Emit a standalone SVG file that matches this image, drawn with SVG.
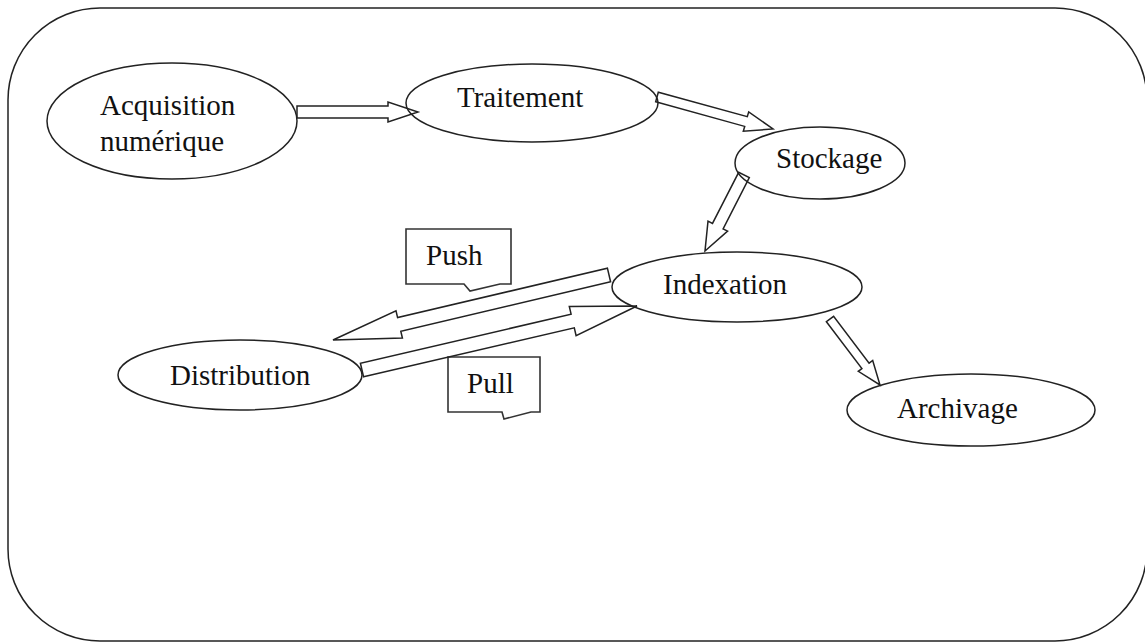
<svg xmlns="http://www.w3.org/2000/svg" width="1145" height="643" viewBox="0 0 1145 643">
  <style>
    .frame { fill: #fff; stroke: #222; stroke-width: 1.5; }
    .node ellipse { fill: #fff; stroke: #222; stroke-width: 1.5; }
    .label { font-family: "Liberation Serif", "Times New Roman", Tinos, "DejaVu Serif", "Noto Serif", serif; font-size: 29px; fill: #111; }
    .arrow { fill: none; stroke: #222; stroke-width: 1.5; stroke-linejoin: miter; }
    .callout path { fill: #fff; stroke: #333; stroke-width: 1.6; }
  </style>

  <!-- outer frame -->
  <rect class="frame" x="8" y="8" width="1139" height="633" rx="92" ry="92"/>

  <!-- nodes -->
  <g id="acquisition" class="node">
    <ellipse cx="172" cy="121" rx="125" ry="58"/>
    <text class="label" x="100" y="115">Acquisition</text>
    <text class="label" x="100" y="151">numérique</text>
  </g>
  <g id="traitement" class="node">
    <ellipse cx="532" cy="103" rx="126" ry="39"/>
    <text class="label" x="457" y="107">Traitement</text>
  </g>
  <g id="stockage" class="node">
    <ellipse cx="820" cy="163" rx="85" ry="36"/>
    <text class="label" x="776" y="168">Stockage</text>
  </g>
  <g id="indexation" class="node">
    <ellipse cx="737" cy="287" rx="125" ry="35"/>
    <text class="label" x="663" y="294">Indexation</text>
  </g>
  <g id="distribution" class="node">
    <ellipse cx="240" cy="375" rx="122" ry="35"/>
    <text class="label" x="170" y="385">Distribution</text>
  </g>
  <g id="archivage" class="node">
    <ellipse cx="971" cy="410" rx="124" ry="36"/>
    <text class="label" x="897" y="418">Archivage</text>
  </g>

  <!-- callouts -->
  <g id="push" class="callout">
    <path d="M406,229 H511 V284 H500 L470,291 L464,284 H406 Z"/>
    <text class="label" x="426" y="265">Push</text>
  </g>
  <g id="pull" class="callout">
    <path d="M448,357 H540 V412 H531 L504,419 L502,412 H448 Z"/>
    <text class="label" x="467" y="393">Pull</text>
  </g>

  <!-- block arrows -->
  <g id="connectors">
    <polygon class="arrow" points="297,106 388,106 388,102 418,112 388,122 388,118 297,118"/>
    <polygon class="arrow" points="655.7,101.8 744.7,126.4 743.3,131.2 773,129 748.7,111.9 747.3,116.7 658.3,92.2"/>
    <polygon class="arrow" points="749.3,177.7 723.1,228.8 727.6,231.1 705,251 708,221.1 712.5,223.4 738.7,172.3"/>
    <polygon class="arrow" points="610.6,281.8 400.8,331.2 402.4,338 333,340 396,310.8 397.6,317.6 607.4,268.2"/>
    <polygon class="arrow" points="363.6,376.8 574.3,327.8 576.1,335.6 637,306 569.3,306.4 571.1,314.2 360.4,363.2"/>
    <polygon class="arrow" points="826.4,321.7 861.9,368.6 858.3,371.3 880,385 872.7,360.5 869.1,363.2 833.6,316.3"/>
  </g>
</svg>
